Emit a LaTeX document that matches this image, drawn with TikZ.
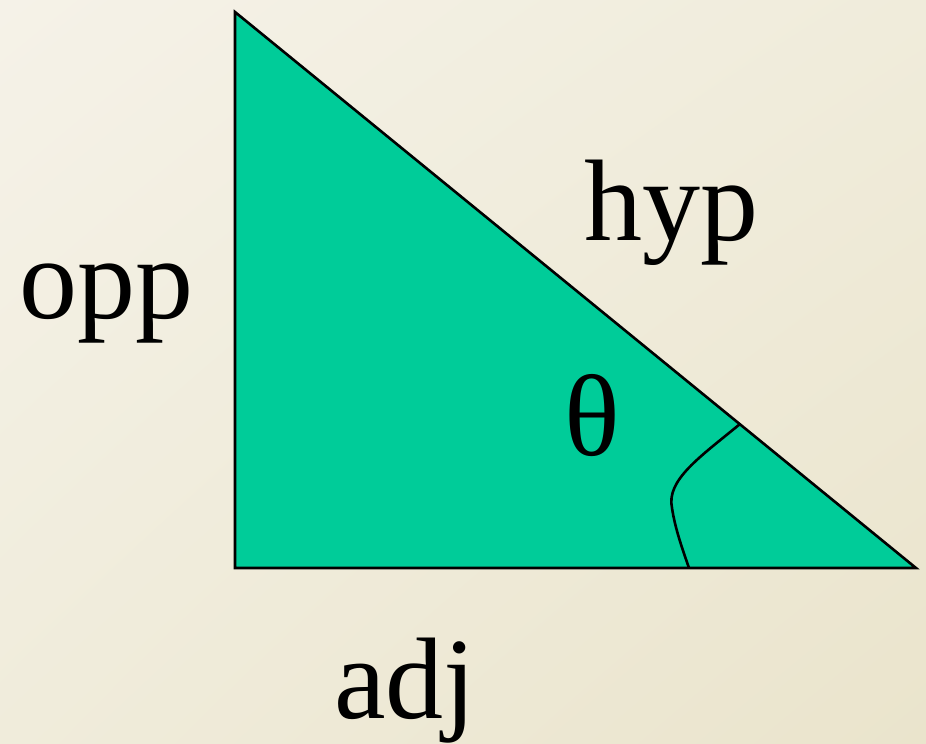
\documentclass[tikz,border=0pt]{standalone}
\usepackage{fontspec}
\setmainfont{Liberation Serif}
\usetikzlibrary{shadings}
\definecolor{bgA}{HTML}{F5F2E8}
\definecolor{bgB}{HTML}{EAE4CC}
\definecolor{bgM}{HTML}{F0ECDB}
\definecolor{trifill}{HTML}{00CC99}
\begin{document}
\begin{tikzpicture}[x=0.5pt,y=-0.5pt,
  lbl/.style={anchor=base,inner sep=0pt,font=\fontsize{58}{62}\selectfont},
  edge/.style={draw=black,line width=1.3pt,line join=miter}]
\useasboundingbox (0,0) rectangle (926,744);
\shade[upper left=bgA,lower right=bgB,upper right=bgM,lower left=bgM] (0,0) rectangle (926,744);
\coordinate (A) at (235,12);
\coordinate (B) at (235,568);
\coordinate (C) at (916,568);
\coordinate (P) at (740,424);
\coordinate (Q) at (689,568);
\fill[trifill] (A) -- (B) -- (C) -- cycle;
\draw[edge] (A) -- (B) -- (C) -- cycle;
\draw[edge] (P) .. controls (700,457) and (666,480) .. (672,508) .. controls (675,528) and (682,548) .. (Q);
\node[lbl] (hyp) at (671,240) {hyp};
\node[lbl] (opp) at (106,318) {opp};
\node[lbl] (adj) at (405,718) {adj};
\node[lbl] (th) at (592,455) {θ};
\end{tikzpicture}
\end{document}
